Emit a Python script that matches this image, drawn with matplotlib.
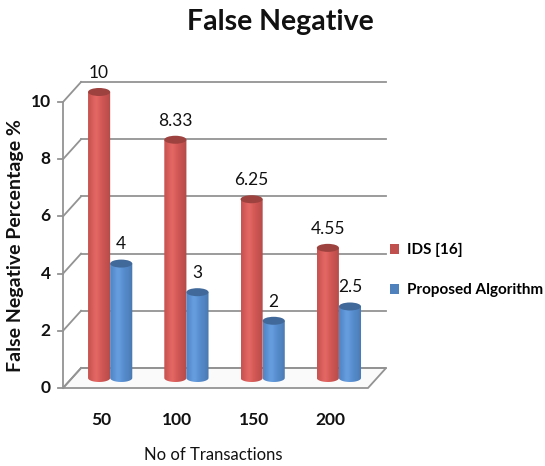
import numpy as np
import matplotlib.pyplot as plt
from matplotlib.patches import Ellipse, Polygon, Patch
from matplotlib.colors import to_rgb

categories = ['50', '100', '150', '200']
ids_values = [10, 8.33, 6.25, 4.55]
proposed_values = [4, 3, 2, 2.5]
series_names = ['IDS [16]', 'Proposed Algorithm']
series_colors = ['#C0504D', '#4F81BD']
y_ticks = [0, 2, 4, 6, 8, 10]

plt.rcParams['font.family'] = ['Lato', 'DejaVu Sans']

W, H = 545, 466
PX_PER_UNIT = 28.6
fig = plt.figure(figsize=(W / 100, H / 100), dpi=100)
# axes spans 0..11 so the caps of the tallest bars are not clipped
ax = fig.add_axes([63 / W, 78 / H, 305 / W, 11 * PX_PER_UNIT / H])
ax.axis('off')

# depth offset of the 3D box (data units)
DX, DY = 0.237, 0.7
grid_color = '#939393'

# floor
floor = Polygon([(-0.5, 0), (3.5, 0), (3.5 + DX, DY), (-0.5 + DX, DY)],
                closed=True, facecolor='#fafafa', edgecolor=grid_color, lw=1.3,
                clip_on=False, zorder=1)
ax.add_patch(floor)

# back wall gridlines, left wall slants, ticks
for v in y_ticks:
    ax.plot([-0.5 + DX, 3.5 + DX], [v + DY, v + DY], color=grid_color, lw=1.3,
            clip_on=False, zorder=1)
    ax.plot([-0.5, -0.5 + DX], [v, v + DY], color=grid_color, lw=1.3,
            clip_on=False, zorder=1)
    ax.plot([-0.57, -0.5], [v, v], color=grid_color, lw=1.3, clip_on=False, zorder=1)
    ax.text(-0.66, v, str(v), ha='right', va='center', fontsize=12.5,
            fontweight='bold', color='#111111')
ax.plot([-0.5, -0.5], [0, 10], color=grid_color, lw=1.3, clip_on=False, zorder=1)


def shade(color, n=64):
    base = np.array(to_rgb(color))
    t = np.linspace(0, 1, n)
    # bright band slightly left of centre, darker rims
    k = 1.0 - 0.55 * ((t - 0.38) / 0.62) ** 2
    k = 0.78 + 0.32 * k
    glow = 0.06 * np.exp(-((t - 0.35) / 0.18) ** 2)
    rows = np.clip(base[None, :] * k[:, None] + glow[:, None], 0, 1)
    return rows[None, :, :]


bar_w = 0.29
cap_h = 0.28
for s, values in enumerate([ids_values, proposed_values]):
    color = series_colors[s]
    img = shade(color)
    top_color = np.array(to_rgb(color)) * 0.82
    for i, v in enumerate(values):
        xc = i + (s - 0.5) * bar_w + DX / 2
        base = DY / 2
        top = v + DY / 2
        th = np.linspace(np.pi, 2 * np.pi, 40)
        pts = [(xc + bar_w / 2 * np.cos(a), base + cap_h / 2 * np.sin(a)) for a in th]
        pts += [(xc + bar_w / 2, top), (xc - bar_w / 2, top)]
        outline = Polygon(pts, closed=True, facecolor='none', edgecolor='none')
        ax.add_patch(outline)
        im = ax.imshow(img, extent=[xc - bar_w / 2, xc + bar_w / 2, base - cap_h / 2, top],
                       aspect='auto', origin='lower', zorder=3, interpolation='bilinear')
        im.set_clip_path(outline)
        ax.add_patch(Ellipse((xc, top), bar_w, cap_h, facecolor=top_color,
                             edgecolor='none', zorder=4, clip_on=False))
        ax.text(xc, top + cap_h / 2 + 0.25, f'{v:g}', ha='center', va='bottom',
                fontsize=12.5, color='#111111', zorder=5)

for i, c in enumerate(categories):
    ax.text(i, -1.12, c, ha='center', va='center', fontsize=12.5, fontweight='bold',
            color='#111111')

ax.set_xlim(-0.5, 3.5)
ax.set_ylim(0, 11)

fig.text(280 / W, 1 - 22 / H, 'False Negative', ha='center', va='center',
         fontsize=20.5, fontweight='bold', color='#111111')
fig.text(16 / W, 1 - 246 / H, 'False Negative Percentage %', ha='center', va='center',
         rotation=90, fontsize=14, fontweight='bold', color='#111111')
fig.text(213 / W, 1 - 455 / H, 'No of Transactions', ha='center', va='center',
         fontsize=12, color='#111111')

handles = [Patch(facecolor=c) for c in series_colors]
fig.legend(handles, series_names, loc='center left',
           bbox_to_anchor=(376 / W, 1 - 270 / H), frameon=False,
           handlelength=0.6, handleheight=0.6, handletextpad=0.5, labelspacing=1.7,
           prop={'weight': 'bold', 'size': 11})

fig.savefig('out.png', dpi=100)
